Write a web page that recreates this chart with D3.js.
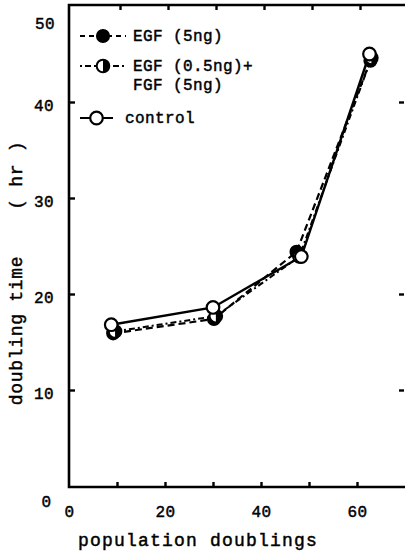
<!DOCTYPE html>
<html>
<head>
<meta charset="utf-8">
<script src="https://cdn.jsdelivr.net/npm/d3@7"></script>
<style>
  body { margin: 0; background: #fff; }
  text { font-family: 'Liberation Mono', 'DejaVu Sans Mono', monospace; fill: #000; stroke: #000; stroke-width: 0.45px; }
</style>
</head>
<body>
<div id="chart"></div>
<script>
// population doublings (x) and doubling time in hours (y)
var egfX = [9.2, 30.2, 47.4, 62.8]
var egfY = [15.9, 17.4, 24.4, 44.3]

var mixX = [9.6, 30.6, 48.0, 63.0]
var mixY = [16.1, 17.7, 23.9, 44.6]

var ctrlX = [8.8, 30.0, 48.4, 62.6]
var ctrlY = [16.8, 18.6, 23.9, 45.0]

var xTicks = [0, 20, 40, 60]
var xMinorTicks = [10, 20, 30, 40, 50, 60]
var yTicks = [10, 20, 30, 40]

var legendNames = ['EGF (5ng)', 'EGF (0.5ng)+', 'control']

var width = 405
var height = 558

var svg = d3
  .select('#chart')
  .append('svg')
  .attr('width', width)
  .attr('height', height)

var xScale = d3.scaleLinear().domain([0, 70]).range([69, 405])
var yScale = d3.scaleLinear().domain([0, 50]).range([486, 6])

var radius = 6.3

// frame
svg
  .append('path')
  .attr('d', 'M' + xScale(70) + ',' + (yScale(50) - 1) + 'H' + xScale(0) + 'V' + (yScale(0) + 1) + 'H' + xScale(70))
  .attr('fill', 'none')
  .attr('stroke', '#000')
  .attr('stroke-width', 2.6)

var bottomAxis = svg
  .append('g')
  .attr('transform', 'translate(0,' + (yScale(0) + 1) + ')')
  .call(d3.axisBottom(xScale).tickValues(xMinorTicks).tickSize(-5).tickFormat(''))
bottomAxis.select('.domain').remove()

var bottomLabels = svg
  .append('g')
  .attr('transform', 'translate(0,' + (yScale(0) + 1) + ')')
  .call(d3.axisBottom(xScale).tickValues(xTicks).tickSize(0).tickPadding(19))
bottomLabels.select('.domain').remove()

var topAxis = svg
  .append('g')
  .attr('transform', 'translate(3,' + (yScale(50) - 1) + ')')
  .call(d3.axisTop(xScale).tickValues(xMinorTicks).tickSize(-5).tickFormat(''))
topAxis.select('.domain').remove()

var leftAxis = svg
  .append('g')
  .attr('transform', 'translate(' + xScale(0) + ',0)')
  .call(d3.axisLeft(yScale).tickValues(yTicks).tickSize(-6).tickPadding(15))
leftAxis.select('.domain').remove()
leftAxis.selectAll('text').attr('dy', '0.55em')

var rightAxis = svg
  .append('g')
  .attr('transform', 'translate(' + (xScale(70) - 1) + ',0)')
  .call(d3.axisRight(yScale).tickValues([10, 20, 40]).tickSize(-5).tickFormat(''))
rightAxis.select('.domain').remove()

svg.selectAll('.tick line').attr('stroke', '#000').attr('stroke-width', 2.4)
svg
  .selectAll('.tick text')
  .style('font-size', '16px')
  .style('letter-spacing', '0.4px')
  .attr('fill', '#000')

// the odd corner labels
svg
  .append('text')
  .attr('x', xScale(0) - 14)
  .attr('y', yScale(50) + 23)
  .attr('text-anchor', 'end')
  .style('font-size', '16px')
  .style('letter-spacing', '0.4px')
  .text('50')

svg
  .append('text')
  .attr('x', xScale(0) - 18)
  .attr('y', yScale(0) + 21)
  .attr('text-anchor', 'end')
  .style('font-size', '16px')
  .text('0')

// axis titles
svg
  .append('text')
  .attr('x', 198)
  .attr('y', 546)
  .attr('text-anchor', 'middle')
  .style('font-size', '18px')
  .style('letter-spacing', '1.2px')
  .text('population doublings')

svg
  .append('text')
  .attr('transform', 'translate(22,273) rotate(-90)')
  .attr('text-anchor', 'middle')
  .style('font-size', '18px')
  .style('letter-spacing', '0.7px')
  .style('white-space', 'pre')
  .text('doubling time    ( hr )')

// lines
var line = d3
  .line()
  .x(d => xScale(d[0]))
  .y(d => yScale(d[1]))

var egfData = d3.zip(egfX, egfY)
var mixData = d3.zip(mixX, mixY)
var ctrlData = d3.zip(ctrlX, ctrlY)

svg
  .append('path')
  .datum(egfData)
  .attr('d', line)
  .attr('fill', 'none')
  .attr('stroke', '#000')
  .attr('stroke-width', 2.2)
  .attr('stroke-dasharray', '7,4')

svg
  .append('path')
  .datum(mixData)
  .attr('d', line)
  .attr('fill', 'none')
  .attr('stroke', '#000')
  .attr('stroke-width', 2)
  .attr('stroke-dasharray', '6,3,2,3')

svg
  .append('path')
  .datum(ctrlData)
  .attr('d', line)
  .attr('fill', 'none')
  .attr('stroke', '#000')
  .attr('stroke-width', 2.4)

var halfArc = d3
  .arc()
  .innerRadius(0)
  .outerRadius(radius)
  .startAngle(0)
  .endAngle(Math.PI)

function filledMarker(g) {
  g.append('circle').attr('r', radius).attr('fill', '#000').attr('stroke', '#000').attr('stroke-width', 1.5)
}
function halfMarker(g) {
  g.append('circle').attr('r', radius).attr('fill', '#fff').attr('stroke', '#000').attr('stroke-width', 2)
  g.append('path').attr('d', halfArc).attr('fill', '#000')
}
function openMarker(g) {
  g.append('circle').attr('r', radius).attr('fill', '#fff').attr('stroke', '#000').attr('stroke-width', 2.2)
}

svg
  .selectAll('.egf-pt')
  .data(egfData)
  .enter()
  .append('g')
  .attr('class', 'egf-pt')
  .attr('transform', d => 'translate(' + xScale(d[0]) + ',' + yScale(d[1]) + ')')
  .call(filledMarker)

svg
  .selectAll('.mix-pt')
  .data(mixData)
  .enter()
  .append('g')
  .attr('class', 'mix-pt')
  .attr('transform', d => 'translate(' + xScale(d[0]) + ',' + yScale(d[1]) + ')')
  .call(halfMarker)

svg
  .selectAll('.ctrl-pt')
  .data(ctrlData)
  .enter()
  .append('g')
  .attr('class', 'ctrl-pt')
  .attr('transform', d => 'translate(' + xScale(d[0]) + ',' + yScale(d[1]) + ')')
  .call(openMarker)

// legend
var legend = svg.append('g')

function legendRow(y, x1, x2, dash, marker, label, textX) {
  var row = legend.append('g').attr('transform', 'translate(0,' + y + ')')
  row
    .append('line')
    .attr('x1', x1)
    .attr('x2', x2)
    .attr('stroke', '#000')
    .attr('stroke-width', 2)
    .attr('stroke-dasharray', dash)
  row.append('g').attr('transform', 'translate(' + (x1 + x2) / 2 + ',0)').call(marker)
  row
    .append('text')
    .attr('x', textX)
    .attr('y', 5)
    .style('font-size', '16px')
    .style('letter-spacing', '0.4px')
    .text(label)
  return row
}

legendRow(36, 80, 126, '5,4', filledMarker, legendNames[0], 133)
var mixRow = legendRow(66, 80, 126, '2,3,6,3', halfMarker, legendNames[1], 133)
mixRow
  .append('text')
  .attr('x', 133)
  .attr('y', 24)
  .style('font-size', '16px')
  .style('letter-spacing', '0.4px')
  .text('FGF (5ng)')
legendRow(118, 80, 113, null, openMarker, legendNames[2], 125)
</script>
</body>
</html>
